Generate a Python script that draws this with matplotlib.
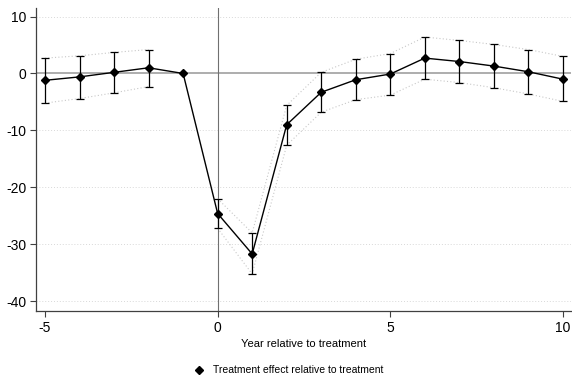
import numpy as np
import matplotlib.pyplot as plt
from matplotlib.lines import Line2D

plt.rcParams['font.family'] = ['Liberation Sans', 'DejaVu Sans']
plt.rcParams['axes.unicode_minus'] = False

years = [-5, -4, -3, -2, -1, 0, 1, 2, 3, 4, 5, 6, 7, 8, 9, 10]
effect = [-1.2, -0.6, 0.2, 1.0, 0.0, -24.6, -31.7, -9.0, -3.3, -1.1, -0.1, 2.7, 2.1, 1.3, 0.3, -1.0]
ci_hi = [2.7, 3.1, 3.7, 4.2, np.nan, -22.0, -28.0, -5.6, 0.2, 2.5, 3.5, 6.4, 5.8, 5.1, 4.2, 3.0]
ci_lo = [-5.2, -4.4, -3.4, -2.3, np.nan, -27.2, -35.2, -12.6, -6.8, -4.6, -3.8, -1.0, -1.6, -2.5, -3.6, -4.9]

x = np.array(years, dtype=float)
y = np.array(effect)
hi = np.array(ci_hi)
lo = np.array(ci_lo)

fig = plt.figure(figsize=(5.72, 3.81), dpi=100)
ax = fig.add_axes([0.063, 0.184, 0.935, 0.795])

# grid + reference lines
for v in [10, -10, -20, -30, -40]:
    ax.axhline(v, color='#d8d8d8', lw=0.7, ls=(0, (1, 2)), zorder=0)
ax.axhline(0, color='#a0a0a0', lw=1.2, zorder=1)
ax.axvline(0, color='#707070', lw=0.8, zorder=1)

# CI band outlines
ax.plot(x, hi, color='#c8c8c8', lw=0.8, ls=(0, (1, 2)), zorder=2)
ax.plot(x, lo, color='#c8c8c8', lw=0.8, ls=(0, (1, 2)), zorder=2)

ok = ~np.isnan(hi)
ax.errorbar(x[ok], y[ok], yerr=[y[ok] - lo[ok], hi[ok] - y[ok]], fmt='none',
            ecolor='black', elinewidth=0.9, capsize=3, capthick=0.9, zorder=3)
ax.plot(x, y, color='black', lw=1.0, marker='D', ms=4.5, zorder=4)

ax.set_xlim(-5.26, 10.23)
ax.set_ylim(-41.7, 11.5)
ax.set_xticks([-5, 0, 5, 10])
ax.set_yticks([10, 0, -10, -20, -30, -40])
ax.tick_params(labelsize=10, direction='out', length=4.5, width=0.8, color='#404040', pad=2.5)
for s in ['top', 'right']:
    ax.spines[s].set_visible(False)
for s in ['left', 'bottom']:
    ax.spines[s].set_color('#404040')
    ax.spines[s].set_linewidth(0.9)
ax.set_xlabel('Year relative to treatment', fontsize=8, labelpad=3)

handle = Line2D([], [], color='black', marker='D', ms=4, ls='none')
fig.legend([handle], ['Treatment effect relative to treatment'], loc='center',
           bbox_to_anchor=(0.5, 0.028), frameon=False, fontsize=7.5,
           handletextpad=0.3)

fig.savefig('out.png', dpi=100)
